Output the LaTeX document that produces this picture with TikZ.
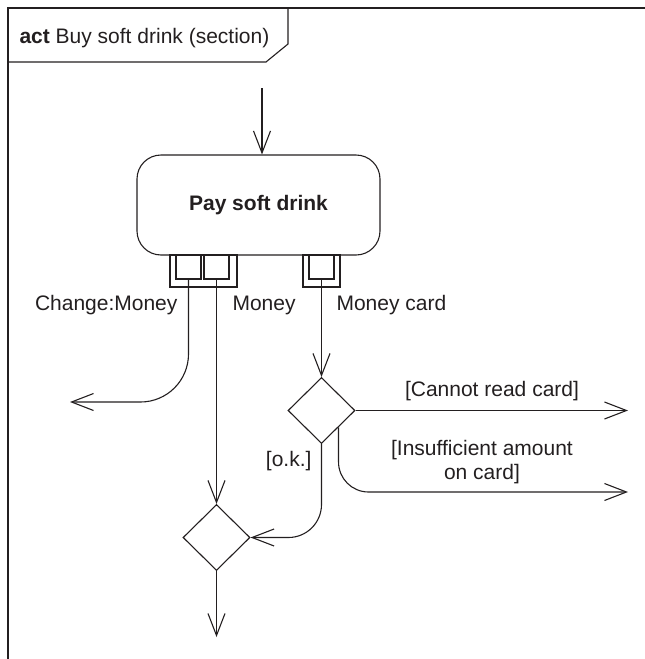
\documentclass[tikz,border=0pt]{standalone}
\usepackage{fontspec}
\setmainfont{Liberation Sans}
\usetikzlibrary{arrows.meta,shapes.geometric}
\definecolor{ink}{HTML}{231F20}
\begin{document}
\begin{tikzpicture}[x=1pt,y=-1pt,
  every path/.style={line width=1.1pt},
  every node/.style={font=\fontsize{21}{25}\selectfont, text=ink},
  flow/.style={draw=ink, line width=1.1pt, -{Straight Barb[length=22pt,width=17pt,line width=1.1pt]}},
  pinbox/.style={draw=ink, line width=1.1pt, rectangle, minimum width=25pt, minimum height=24pt, inner sep=0pt},
  setbox/.style={draw=ink, line width=1.1pt, rectangle, minimum height=32pt, inner sep=0pt},
  decision/.style={draw=ink, line width=1.1pt, diamond, minimum width=67pt, minimum height=66pt, inner sep=0pt},
  actbox/.style={draw=ink, line width=1.1pt, rectangle, rounded corners=24pt, minimum width=243pt, minimum height=100pt, font=\fontsize{21}{25}\selectfont\bfseries},
  lbl/.style={inner sep=0pt}
]
\useasboundingbox (0,0) rectangle (645,659);
% frame
\draw[ink, line width=1.3pt] (8,659) -- (8,8) -- (645,8);
\draw[ink, line width=1.1pt] (8,62) -- (266,62) -- (288,44) -- (288,8);
\node[lbl, anchor=base west] (title) at (19,43) {\textbf{act} Buy soft drink (section)};
% action
\node[actbox] (act) at (258.5,205) {Pay soft drink};
% parameter sets and pins
\node[setbox, minimum width=67pt] (ps1) at (203.5,271) {};
\node[setbox, minimum width=37pt] (ps2) at (321.5,271) {};
\node[pinbox] (p1) at (188.5,267) {};
\node[pinbox] (p2) at (216.5,267) {};
\node[pinbox] (p3) at (321.5,267) {};
% decisions
\node[decision] (d1) at (321.5,410.5) {};
\node[decision] (d2) at (216.5,537.5) {};
% free ends
\coordinate (start) at (262,88);
\coordinate (leftend) at (70,402);
\coordinate (cannot) at (628,410.5);
\coordinate (insuff) at (628,492);
\coordinate (final) at (216.5,637);
% flows
\draw[flow] (start) -- (start |- act.north);
\draw[flow, rounded corners=48pt] (p1.south) |- (leftend);
\draw[flow] (p2.south) -- (d2.north);
\draw[flow] (p3.south) -- (d1.north);
\draw[flow] (d1.east) -- (cannot);
\draw[flow, rounded corners=30pt] (d1.south east) |- (insuff);
\draw[flow, rounded corners=33pt] (d1.south) |- (d2.east);
\draw[flow] (d2.south) -- (final);
% labels
\node[lbl, anchor=base east] (l1) at (178,310) {Change:Money};
\node[lbl, anchor=base west] (l2) at (232,310) {Money};
\node[lbl, anchor=base west] (l3) at (336,310) {Money card};
\node[lbl, anchor=base] (l4) at (492,396) {[Cannot read card]};
\node[lbl, anchor=base, align=center] (l5) at (482,479) {[Insufficient amount\\[-1pt]on card]};
\node[lbl, anchor=base east] (l6) at (312,466) {[o.k.]};
\end{tikzpicture}
\end{document}
